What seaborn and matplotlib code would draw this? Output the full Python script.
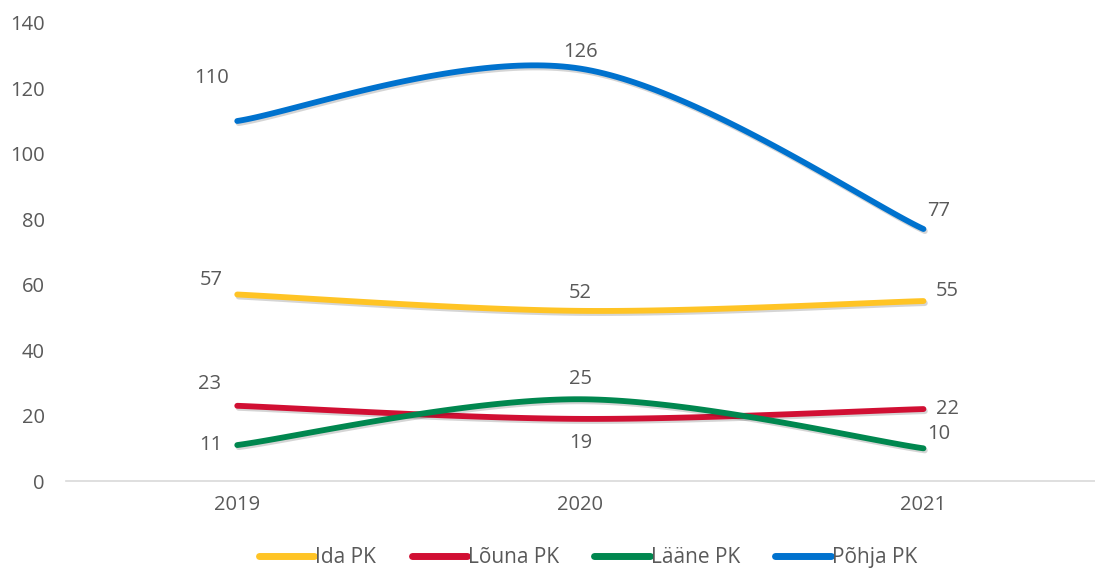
import matplotlib
matplotlib.use("Agg")
import matplotlib.pyplot as plt
import matplotlib.patheffects as pe
import seaborn as sns
import pandas as pd
import numpy as np

years = ["2019", "2020", "2021"]
series_names = ["Ida PK", "Lõuna PK", "Lääne PK", "Põhja PK"]
ida = [57, 52, 55]
louna = [23, 19, 22]
laane = [11, 25, 10]
pohja = [110, 126, 77]
colors = ["#FFC425", "#D10F33", "#00874F", "#0072CE"]

# label offsets in pixels for each series / year
offsets = {
    "Ida PK": [(-26, 14), (0, 18), (24, 10)],
    "Lõuna PK": [(-28, 22), (0, -24), (24, 0)],
    "Lääne PK": [(-26, 0), (0, 20), (15, 14)],
    "Põhja PK": [(-26, 43), (0, 17), (15, 18)],
}


def smooth(xs, ys, n=60):
    # Excel-style smoothed line: cubic bezier with catmull-rom control points
    xs = np.asarray(xs, float)
    ys = np.asarray(ys, float)
    px = np.concatenate([[xs[0]], xs, [xs[-1]]])
    py = np.concatenate([[ys[0]], ys, [ys[-1]]])
    out_x, out_y = [], []
    t = np.linspace(0, 1, n)
    for i in range(1, len(xs)):
        x0, y0 = px[i], py[i]
        x3, y3 = px[i + 1], py[i + 1]
        x1 = x0 + (px[i + 1] - px[i - 1]) / 6
        y1 = y0 + (py[i + 1] - py[i - 1]) / 6
        x2 = x3 - (px[i + 2] - px[i]) / 6
        y2 = y3 - (py[i + 2] - py[i]) / 6
        b = [(1 - t) ** 3, 3 * (1 - t) ** 2 * t, 3 * (1 - t) * t ** 2, t ** 3]
        out_x.extend(b[0] * x0 + b[1] * x1 + b[2] * x2 + b[3] * x3)
        out_y.extend(b[0] * y0 + b[1] * y1 + b[2] * y2 + b[3] * y3)
    return out_x, out_y


sns.set_theme(style="white")
plt.rcParams["font.family"] = ["Open Sans", "DejaVu Sans"]
gray = "#595959"

data = dict(zip(series_names, [ida, louna, laane, pohja]))
pos = np.arange(len(years))

rows = []
for name in series_names:
    sx, sy = smooth(pos, data[name])
    for x, y in zip(sx, sy):
        rows.append({"x": x, "y": y, "series": name})
df = pd.DataFrame(rows)

fig, ax = plt.subplots(figsize=(10.95, 5.70), dpi=100)
fig.subplots_adjust(left=0.06, right=1.0, top=0.96, bottom=0.156)

sns.lineplot(data=df, x="x", y="y", hue="series", palette=colors,
             hue_order=series_names, sort=False, estimator=None,
             linewidth=4.2, ax=ax)
for line in ax.get_lines():
    line.set_solid_capstyle("round")
    line.set_path_effects([pe.SimpleLineShadow(offset=(1, -1.5), alpha=0.18),
                           pe.Normal()])

for name in series_names:
    for i, v in enumerate(data[name]):
        ax.annotate(str(v), (pos[i], v), xytext=offsets[name][i],
                    textcoords="offset pixels", ha="center", va="center",
                    fontsize=14.5, color=gray)

ax.set_xlim(-0.5, 2.5)
ax.set_ylim(0, 140)
ax.set_yticks(range(0, 141, 20))
ax.set_xticks(pos)
ax.set_xticklabels(years)
ax.tick_params(axis="both", length=0, labelsize=14.5, labelcolor=gray)
ax.tick_params(axis="y", pad=15)
ax.tick_params(axis="x", pad=10)
ax.set_xlabel("")
ax.set_ylabel("")
for s in ["top", "right", "left"]:
    ax.spines[s].set_visible(False)
ax.spines["bottom"].set_color("#D9D9D9")
ax.spines["bottom"].set_linewidth(1.2)

sns.move_legend(ax, "center", bbox_to_anchor=(0.537, 0.022),
                bbox_transform=fig.transFigure, ncol=4,
                frameon=False, title=None, fontsize=15, handlelength=2.65,
                handletextpad=0.05, columnspacing=1.7)
for t in ax.get_legend().get_texts():
    t.set_color(gray)
for h in ax.get_legend().legend_handles:
    h.set_linewidth(5)
    h.set_solid_capstyle("round")

plt.savefig("out.png", dpi=100)
